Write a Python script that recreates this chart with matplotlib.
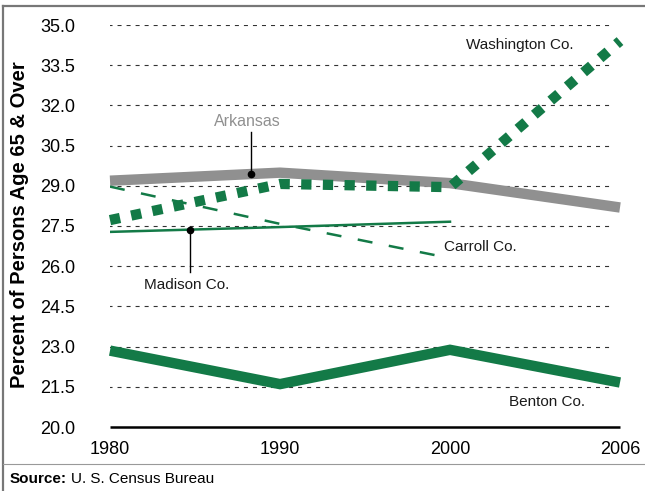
import matplotlib
matplotlib.use("Agg")
import matplotlib.pyplot as plt
from matplotlib.lines import Line2D

plt.rcParams['font.family'] = ['Liberation Sans', 'DejaVu Sans']
plt.rcParams['lines.scale_dashes'] = False

# data
years = ["1980", "1990", "2000", "2006"]
arkansas = [29.19, 29.49, 29.10, 28.19]
washington = [27.72, 29.07, 28.95, 34.4]
carroll = [28.97, 27.58, 26.30]
madison = [27.28, 27.46, 27.66]
benton = [22.85, 21.60, 22.88, 21.66]
yticks = [20.0, 21.5, 23.0, 24.5, 26.0, 27.5, 29.0, 30.5, 32.0, 33.5, 35.0]

green = "#137a47"
grey = "#909090"

W, H = 645, 491
fig = plt.figure(figsize=(W / 100, H / 100), dpi=100)
ax = fig.add_axes([110 / W, 64 / H, 510 / W, 402 / H])
ax.set_xlim(0, 3)
ax.set_ylim(20, 35)
for s in ax.spines.values():
    s.set_visible(False)

# grid + baseline
ax.hlines(yticks[1:], -0.01, 2.96, color="#333333", lw=0.8,
          linestyles=(0, (2.9, 3.6)), zorder=1)
ax.hlines(20, 0, 3.0, color="black", lw=1.8, zorder=2, clip_on=False)

x4 = range(len(years))
x3 = range(len(carroll))

ax.plot(x4, arkansas, color=grey, lw=7.5, solid_capstyle="butt",
        solid_joinstyle="miter", zorder=3, clip_on=False)
ax.plot(x4, benton, color=green, lw=7.5, solid_capstyle="butt",
        solid_joinstyle="miter", zorder=3, clip_on=False)
ax.plot(x3, carroll, color=green, lw=1.8, dashes=(10.8, 12.0),
        dash_capstyle="butt", zorder=4)
ax.plot(x3, madison, color=green, lw=1.8, zorder=4)
ax.plot(x4, washington, color=green, lw=7.4, dashes=(7.4, 8.2),
        dash_capstyle="butt", zorder=5, clip_on=False)

# leader lines
ark_y = arkansas[0] + (arkansas[1] - arkansas[0]) * 0.83
ax.plot([0.83, 0.83], [ark_y, 31.0], color="black", lw=1.0, zorder=6)
ax.plot([0.83], [ark_y], "o", color="black", ms=4.5, zorder=6)
mad_y = madison[0] + (madison[1] - madison[0]) * 0.47
ax.plot([0.47, 0.47], [mad_y, 25.8], color="black", lw=1.0, zorder=6)
ax.plot([0.47], [mad_y], "o", color="black", ms=4.5, zorder=6)

txt = dict(fontsize=11, color="#1a1a1a", ha="center", va="center")
ax.text(0.81, 31.4, "Arkansas", fontsize=11.5, color=grey, ha="center", va="center")
ax.text(0.45, 25.3, "Madison Co.", **txt)
ax.text(2.18, 26.72, "Carroll Co.", **txt)
ax.text(2.41, 34.24, "Washington Co.", **txt)
ax.text(2.57, 20.95, "Benton Co.", **txt)

ax.set_xticks(list(x4))
ax.set_xticklabels(years, fontsize=13)
ax.set_yticks(yticks)
ax.set_yticklabels([f"{v:.1f}" for v in yticks], fontsize=13)
ax.tick_params(axis="x", length=0, pad=10)
ax.tick_params(axis="y", length=0, pad=25)

fig.text(20 / W, 1 - 225 / H, "Percent of Persons Age 65 & Over", rotation=90,
         fontsize=14.5, fontweight="bold", ha="center", va="center")

# frame and source
fig.add_artist(Line2D([3 / W, 1], [1 - 6 / H, 1 - 6 / H], color="#777777", lw=1.6))
fig.add_artist(Line2D([3 / W, 3 / W], [0, 1 - 6 / H], color="#777777", lw=1.6))
fig.add_artist(Line2D([3 / W, 1], [1 - 464 / H, 1 - 464 / H], color="#999999", lw=0.8))
t = fig.text(10 / W, 1 - 479 / H, "Source:", fontsize=11, fontweight="bold",
             ha="left", va="center")
fig.canvas.draw()
bb = t.get_window_extent()
fig.text((bb.x1 + 4) / W, 1 - 479 / H, "U. S. Census Bureau", fontsize=11,
         ha="left", va="center")

fig.savefig("out.png", dpi=100)
